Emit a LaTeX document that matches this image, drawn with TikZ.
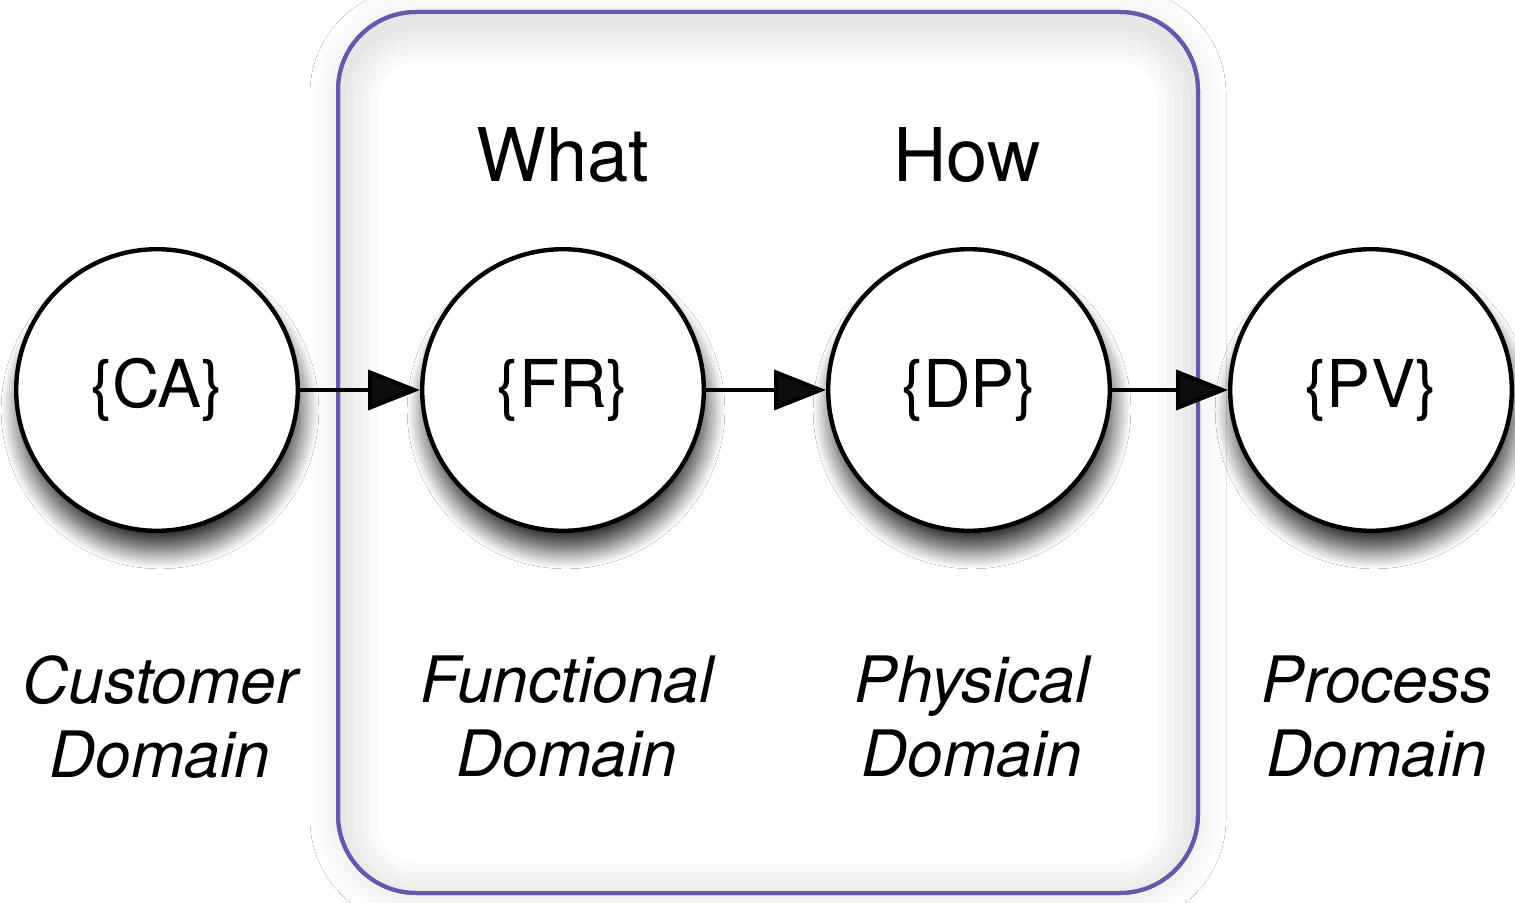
\documentclass[tikz,border=0pt]{standalone}
\usepackage{fontspec}
\setmainfont{TeX Gyre Heros}
\usetikzlibrary{shadows.blur,arrows.meta}
\definecolor{boxc}{RGB}{102,88,170}
\begin{document}
\begin{tikzpicture}[x=0.5pt,y=-0.5pt,
  domainnode/.style={circle, draw=black, line width=2.2pt, fill=white,
    minimum size=140.8pt, inner sep=0pt, font=\fontsize{33}{40}\selectfont,
    blur shadow={shadow xshift=1.5pt, shadow yshift=-10pt, shadow blur radius=9pt, shadow blur steps=20, shadow opacity=80}},
  domlabel/.style={align=center, font=\fontsize{32}{37}\selectfont\itshape, inner sep=0pt},
  headlabel/.style={anchor=base, font=\fontsize{37}{44}\selectfont, inner sep=0pt},
  flow/.style={line width=2pt, -{Triangle[length=26pt, width=20pt]}},
  framebox/.style={draw=boxc, line width=2pt, rounded corners=39pt, fill=white,
    blur shadow={shadow xshift=0pt, shadow yshift=-2pt, shadow blur radius=14pt, shadow blur steps=20, shadow opacity=10}}
]
\useasboundingbox (0,0) rectangle (1515,903);
\fill[white] (0,0) rectangle (1515,903);

% frame
\path[framebox] (338,12) rectangle (1198,893);
\begin{scope}
  \clip[rounded corners=39pt] (338,12) rectangle (1198,893);
  \foreach \w in {40,32,24,16,8}
    \draw[line width=\w pt, black, opacity=0.02, rounded corners=39pt] (338,22) rectangle (1198,903);
\end{scope}
\draw[draw=boxc, line width=2pt, rounded corners=39pt] (338,12) rectangle (1198,893);

% headings
\node[headlabel] (what) at (563,182) {What};
\node[headlabel] (how) at (967,182) {How};

% circles
\node[domainnode] (ca) at (157,390) {\{CA\}};
\node[domainnode] (fr) at (563,390) {\{FR\}};
\node[domainnode] (dp) at (969,390) {\{DP\}};
\node[domainnode] (pv) at (1371,390) {\{PV\}};

% arrows
\draw[flow] (ca) -- (fr);
\draw[flow] (fr) -- (dp);
\draw[flow] (dp) -- (pv);

% domain labels
\node[domlabel] (cal) at (160,717) {Customer\\Domain};
\node[domlabel] (frl) at (567,717) {Functional\\Domain};
\node[domlabel] (dpl) at (972,717) {Physical\\Domain};
\node[domlabel] (pvl) at (1377,717) {Process\\Domain};
\end{tikzpicture}
\end{document}
